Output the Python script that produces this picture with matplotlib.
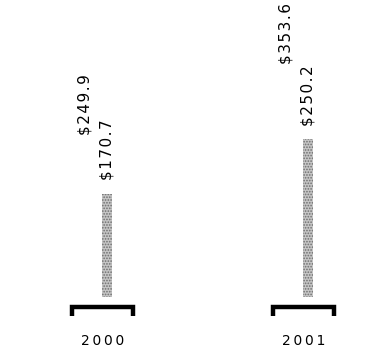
import matplotlib
matplotlib.use('Agg')
import matplotlib.pyplot as plt
import numpy as np

plt.rcParams['font.family'] = ['DejaVu Sans']
plt.rcParams['hatch.linewidth'] = 0.8

# ── Datos ──────────────────────────────────────────────────────────────
years = ['2000', '2001']
serie_a = [249.9, 353.6]   # barra blanca (no se ve)
serie_b = [170.7, 250.2]   # barra punteada gris

x = np.arange(len(years))
off_a, off_b = -0.085, 0.022
ancho = 0.05
base = 20   # la trama empieza un poco por encima del corchete

fig = plt.figure(figsize=(3.81, 3.56), dpi=100)
ax = fig.add_axes([0, 0.073, 1, 0.927])
ax.set_xlim(-0.51, 1.386)
ax.set_ylim(-27.5, 453)
ax.axis('off')

ax.bar(x + off_a, np.array(serie_a) - base, bottom=base, width=0.09,
       color='white', edgecolor='none')
ax.bar(x + off_b, np.array(serie_b) - base, bottom=base, width=ancho,
       color='#c6c6c6', edgecolor='#6e6e6e', linewidth=0, hatch='......')

def etiqueta(v):
    return '\u200a'.join(f'${v:.1f}')

for xi, v in zip(x + off_a, serie_a):
    ax.text(xi, v + 6, etiqueta(v), rotation=90, ha='center', va='bottom',
            fontsize=11)
for xi, v in zip(x + off_b, serie_b):
    ax.text(xi, v + 20, etiqueta(v), rotation=90, ha='center', va='bottom',
            fontsize=11)

# corchetes bajo cada grupo
for xi, yr in zip(x, years):
    ax.plot([xi - 0.15, xi - 0.15, xi + 0.15, xi + 0.15],
            [-7.2, 6.5, 6.5, -7.2], color='black', lw=3.2,
            solid_joinstyle='miter', solid_capstyle='butt', clip_on=False)
    ax.text(xi, -43.5, '\u2009'.join(yr), ha='center', va='center',
            fontsize=10, clip_on=False)

fig.savefig('out.png', dpi=100)
